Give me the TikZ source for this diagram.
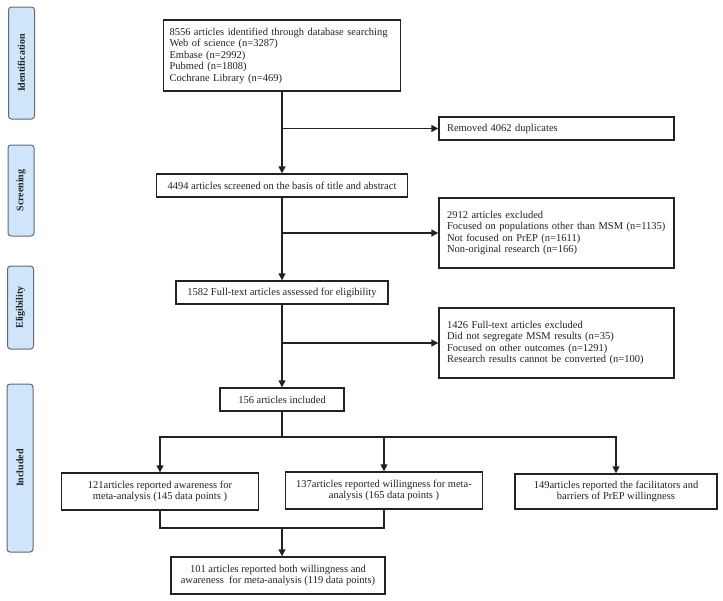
\documentclass[tikz,border=0pt]{standalone}
\usepackage{fontspec}
\setmainfont{Liberation Serif}
\usetikzlibrary{arrows.meta}
\definecolor{sidefill}{HTML}{CFE6FA}
\definecolor{sidedraw}{HTML}{5F6B78}
\definecolor{ink}{HTML}{222222}
\begin{document}
\begin{tikzpicture}[x=1pt,y=-1pt,
  every node/.style={text=ink},
  box/.style={draw=ink, line width=1.4pt, inner sep=0pt, font=\fontsize{10.5}{11.5}\selectfont},
  lbox/.style={box, align=left, text width=#1},
  cbox/.style={box, align=center},
  side/.style={draw=sidedraw, line width=1pt, fill=sidefill, rounded corners=3pt, rotate=90,
     minimum height=26pt, inner sep=0pt, font=\fontsize{10}{11}\selectfont\bfseries},
  conn/.style={draw=ink, line width=1.4pt},
  arr/.style={conn, -{Triangle[length=7pt,width=7pt]}}]
\useasboundingbox (0,0) rectangle (723,600);
% sidebars
\node[side, minimum width=112pt] (s1) at (21.5,63) {Identification};
\node[side, minimum width=91pt] (s2) at (21,190.5) {Screening};
\node[side, minimum width=83pt] (s3) at (20.5,307.5) {Eligibility};
\node[side, minimum width=168pt] (s4) at (20,468) {Included};
% main boxes
\node[lbox=225pt, minimum width=237pt, minimum height=71pt] (b1) at (282,55.5)
  {8556 articles identified through database searching\\
   Web of science (n=3287)\\
   Embase (n=2992)\\
   Pubmed (n=1808)\\
   Cochrane Library (n=469)};
\node[lbox=219pt, minimum width=235pt, minimum height=23pt] (rm) at (556.5,128.5)
  {Removed 4062 duplicates};
\node[cbox, minimum width=251pt, minimum height=23pt] (b2) at (282,185.5)
  {4494 articles screened on the basis of title and abstract};
\node[lbox=219pt, minimum width=235pt, minimum height=70pt] (e1) at (556.5,233)
  {2912 articles excluded\\
   Focused on populations other than MSM (n=1135)\\
   Not focused on PrEP (n=1611)\\
   Non-original research (n=166)};
\node[cbox, minimum width=212pt, minimum height=23pt] (b3) at (282,292.5)
  {1582 Full-text articles assessed for eligibility};
\node[lbox=219pt, minimum width=235pt, minimum height=70pt] (e2) at (556.5,343)
  {1426 Full-text articles excluded\\
   Did not segregate MSM results (n=35)\\
   Focused on other outcomes (n=1291)\\
   Research results cannot be converted (n=100)};
\node[cbox, minimum width=124pt, minimum height=23pt] (b4) at (282,399.5)
  {156 articles included};
\node[cbox, minimum width=197pt, minimum height=37pt] (ba) at (160,491.5)
  {121articles reported awareness for\\ meta-analysis (145 data points )};
\node[cbox, minimum width=197pt, minimum height=37pt] (bb) at (384,490.5)
  {137articles reported willingness for meta-\\ analysis (165 data points )};
\node[cbox, minimum width=202pt, minimum height=35pt] (bc) at (616,491.5)
  {149articles reported the facilitators and\\ barriers of PrEP willingness};
\node[cbox, minimum width=214pt, minimum height=37pt] (bd) at (278,575.5)
  {101 articles reported both willingness and\\ awareness\ \ for meta-analysis (119 data points)};
% connectors
\draw[arr] (b1.south) -- (b2.north);
\draw[arr] (b1.south |- rm.west) -- (rm.west);
\draw[arr] (b2.south) -- (b3.north);
\draw[arr] (b2.south |- e1.west) -- (e1.west);
\draw[arr] (b3.south) -- (b4.north);
\draw[arr] (b3.south |- e2.west) -- (e2.west);
\coordinate (split) at (282,437);
\draw[conn] (b4.south) -- (split);
\draw[arr] (split) -- (split -| ba.north) -- (ba.north);
\draw[arr] (split -| bb.north) -- (bb.north);
\draw[arr] (split) -- (split -| bc.north) -- (bc.north);
\coordinate (join) at (282,528);
\draw[conn] (ba.south) -- (ba.south |- join) -- (bb.south |- join) -- (bb.south);
\draw[arr] (join) -- (join |- bd.north);
\end{tikzpicture}
\end{document}
